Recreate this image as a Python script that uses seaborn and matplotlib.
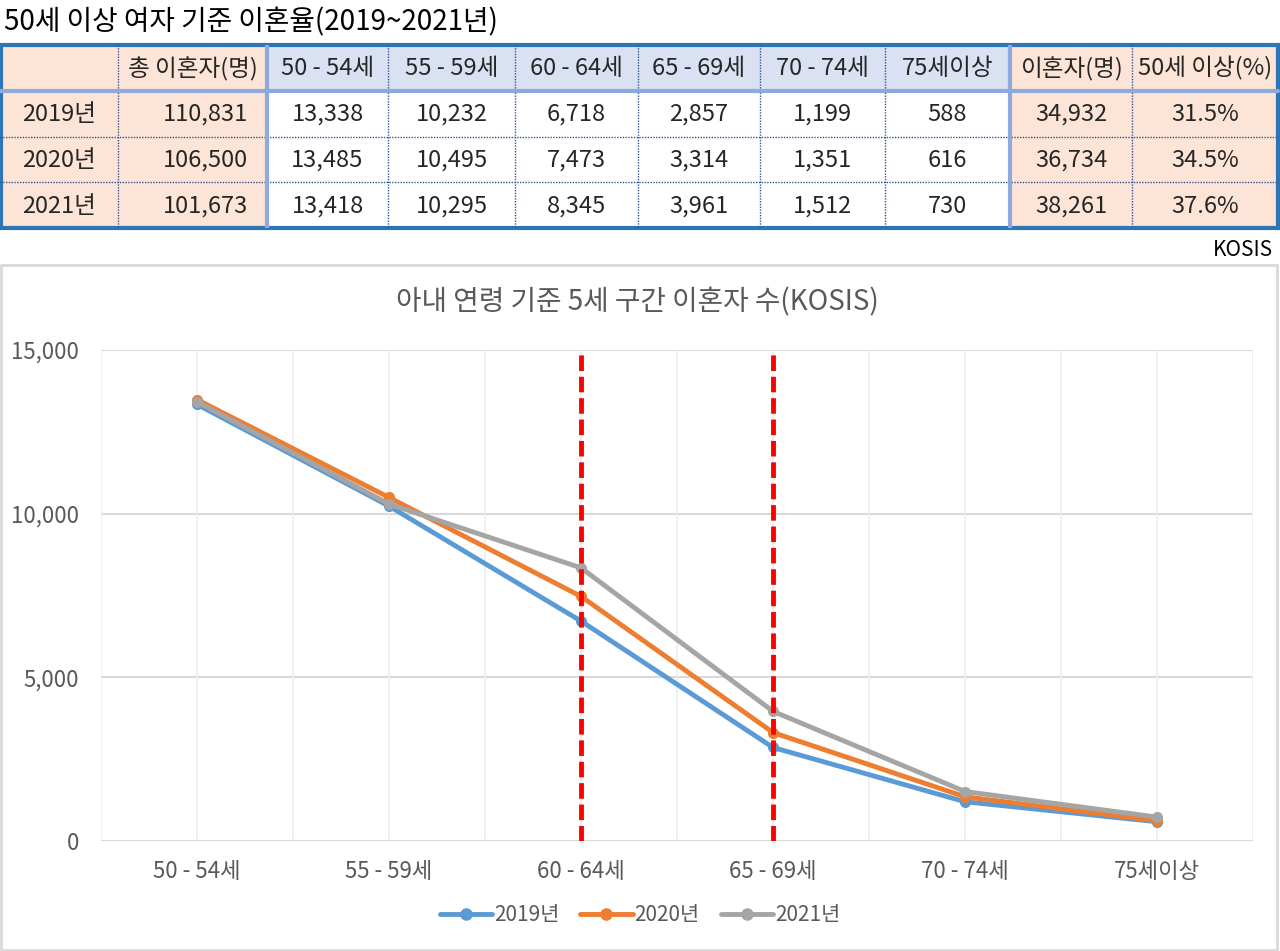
import numpy as np
import pandas as pd
import matplotlib
matplotlib.use('Agg')
import matplotlib.pyplot as plt
import seaborn as sns
from matplotlib.patches import Rectangle
from matplotlib.lines import Line2D

# données (KOSIS)
years = ['2019년', '2020년', '2021년']
age_groups = ['50 - 54세', '55 - 59세', '60 - 64세', '65 - 69세', '70 - 74세', '75세이상']
total_divorce = [110831, 106500, 101673]
div_2019 = [13338, 10232, 6718, 2857, 1199, 588]
div_2020 = [13485, 10495, 7473, 3314, 1351, 616]
div_2021 = [13418, 10295, 8345, 3961, 1512, 730]
over50_sum = [34932, 36734, 38261]
over50_pct = [31.5, 34.5, 37.6]
highlight_groups = ['60 - 64세', '65 - 69세']

header = ['', '총 이혼자(명)'] + age_groups + ['이혼자(명)', '50세 이상(%)']
yticks = [0, 5000, 10000, 15000]

sns.set_theme(style='white')
plt.rcParams['font.family'] = ['Noto Sans CJK KR', 'DejaVu Sans']

W, H = 1280, 951
fig = plt.figure(figsize=(W / 100, H / 100), dpi=100)

def fx(px):
    return px / W

def fy(py):
    return 1 - py / H

# titre du haut
fig.text(fx(4), fy(22), '50세 이상 여자 기준 이혼율(2019~2021년)', fontsize=20,
         color='black', va='center', ha='left')

# tableau
col_edges = [0, 118, 267, 388, 515, 638, 760, 885, 1010, 1132, 1278]
t_top, t_bot = 45, 228
ax_t = fig.add_axes([0, fy(t_bot), 1, (t_bot - t_top) / H])
ax_t.set_xlim(0, W)
ax_t.set_ylim(4, 0)
ax_t.axis('off')

peach = '#FCE4D6'
lblue = '#D9E1F2'
rows = [header]
series = [div_2019, div_2020, div_2021]
for i, y in enumerate(years):
    rows.append([y, f'{total_divorce[i]:,}'] + [f'{v:,}' for v in series[i]]
                + [f'{over50_sum[i]:,}', f'{over50_pct[i]:.1f}%'])

for r, row in enumerate(rows):
    for c, txt in enumerate(row):
        x0, x1 = col_edges[c], col_edges[c + 1]
        if c in (0, 1, 8, 9):
            fc = peach
        elif r == 0:
            fc = lblue
        else:
            fc = 'white'
        ax_t.add_patch(Rectangle((x0, r), x1 - x0, 1, facecolor=fc, edgecolor='none'))
        if c == 1 and r > 0:
            ax_t.text(x1 - 19, r + 0.52, txt, ha='right', va='center', fontsize=17)
        else:
            ax_t.text((x0 + x1) / 2, r + 0.52, txt, ha='center', va='center', fontsize=17)

# lignes internes pointillées
for r in (2, 3):
    ax_t.plot([0, W - 2], [r, r], color='#2F5597', lw=1, ls=(0, (1, 1)))
for c in col_edges[1:-1]:
    if c in (267, 1010):
        continue
    ax_t.plot([c, c], [0, 4], color='#2F5597', lw=1, ls=(0, (1, 1)))
ax_t.plot([0, W - 2], [1, 1], color='#8EA9DB', lw=3)
for c in (267, 1010):
    ax_t.plot([c, c], [0, 4], color='#8EA9DB', lw=3)
ax_t.add_patch(Rectangle((1, 0.0), W - 3, 4, facecolor='none', edgecolor='#2E75B6', lw=3,
                         clip_on=False))

fig.text(fx(1273), fy(250), 'KOSIS', fontsize=15, ha='right', va='center', color='black')

# cadre du graphique
fig.patches.append(Rectangle((fx(1), fy(950)), fx(1276), (950 - 265) / H,
                             transform=fig.transFigure, facecolor='white',
                             edgecolor='#D9D9D9', lw=2, zorder=-1))

fig.text(fx(637), fy(302), '아내 연령 기준 5세 구간 이혼자 수(KOSIS)', fontsize=20,
         color='#595959', ha='center', va='center')

ax = fig.add_axes([fx(101), fy(841), fx(1253 - 101), (841 - 350) / H])
ax.patch.set_alpha(0)
df = pd.DataFrame({
    'age': age_groups * 3,
    'pos': list(range(len(age_groups))) * 3,
    'count': div_2019 + div_2020 + div_2021,
    'year': sum([[y] * len(age_groups) for y in years], []),
})
palette = ['#5B9BD5', '#ED7D31', '#A5A5A5']

# grille
for yv in yticks:
    ax.axhline(yv, color='#D9D9D9', lw=1.5, zorder=0)
for xv in np.arange(-0.5, len(age_groups), 0.5):
    ax.axvline(xv, color='#EDEDED', lw=1.2, zorder=0)

for g in highlight_groups:
    ax.vlines(age_groups.index(g), 0, 15000, color='#FF0000', lw=3.5,
              linestyles=(0, (3.2, 1.2)), zorder=5)

sns.lineplot(data=df, x='pos', y='count', hue='year', palette=palette, marker='o',
             markersize=8, markeredgewidth=0, linewidth=3.5, ax=ax, legend=False, zorder=3)

ax.set_xlim(-0.5, len(age_groups) - 0.5)
ax.set_ylim(0, 15000)
ax.set_xticks(range(len(age_groups)))
ax.set_xticklabels(age_groups)
ax.set_yticks(yticks)
ax.set_yticklabels([f'{v:,}' for v in yticks])
ax.tick_params(axis='x', labelsize=16, colors='#595959', pad=14, length=0)
ax.tick_params(axis='y', labelsize=16, colors='#595959', pad=16, length=0)
ax.set_xlabel('')
ax.set_ylabel('')
for s in ax.spines.values():
    s.set_visible(False)
ax.axhline(0, color='#D9D9D9', lw=2, zorder=1)

handles = [Line2D([0], [0], color=c, lw=3.5, marker='o', markersize=8) for c in palette]
leg = fig.legend(handles, years, loc='center', bbox_to_anchor=(fx(640), fy(915)), ncol=3,
                 frameon=False, fontsize=15, handlelength=2.5, handletextpad=0.1,
                 columnspacing=1.0)
for t in leg.get_texts():
    t.set_color('#595959')

plt.savefig('out.png', dpi=100)
